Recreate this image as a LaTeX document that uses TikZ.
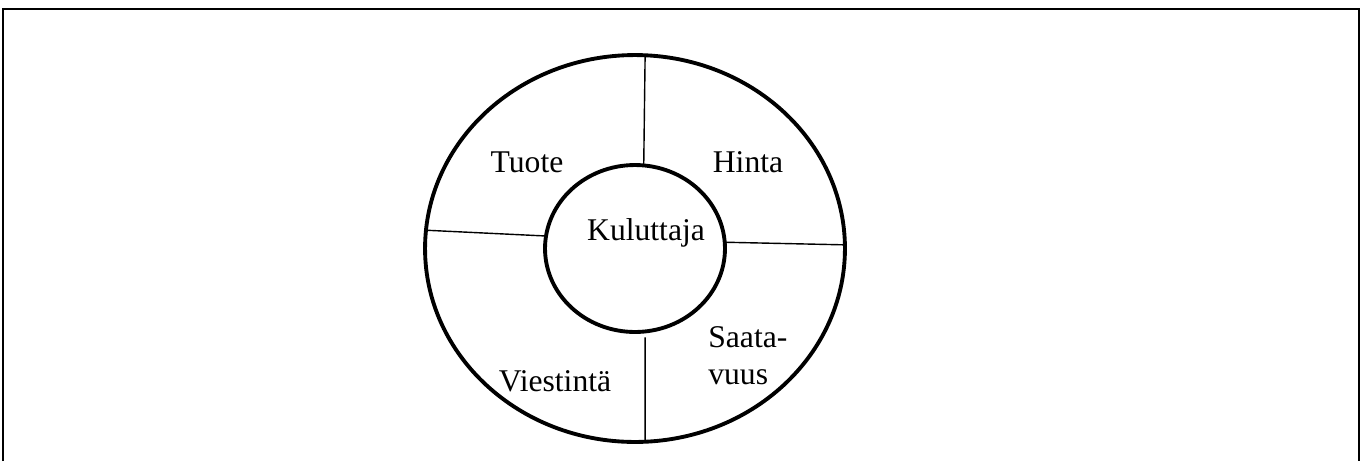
\documentclass[tikz,border=0pt]{standalone}
\usepackage{fontspec}
\setmainfont{Liberation Serif}
\usepackage{tikz}
\usetikzlibrary{shapes.geometric}

\begin{document}
\begin{tikzpicture}[
  x=0.02cm, y=-0.02cm,
  ring/.style ={draw, ellipse, line width=2.2pt, inner sep=0pt, outer sep=0pt},
  sep/.style  ={line width=0.8pt},
  frame/.style={line width=1.1pt},
  lbl/.style  ={font=\fontsize{18}{22}\selectfont, align=left, inner sep=0pt}
]
  \useasboundingbox (0,0) rectangle (1362,461);

  %% ── Page frame (open at the bottom) ─────────────────────────────────────
  \draw[frame] (3,461) |- (1359,9) -- (1359,461);

  %% ── Outer and inner rings ───────────────────────────────────────────────
  \node[ring, minimum width=8.4cm, minimum height=7.74cm] (outer) at (635,248.5) {};
  \node[ring, minimum width=3.6cm, minimum height=3.34cm] (inner) at (635,248.5) {};

  %% ── Dividers between the rings ──────────────────────────────────────────
  \draw[sep] (inner.84.5)  -- (outer.87.6);
  \draw[sep] (inner.172.2) -- (outer.175.8);
  \draw[sep] (inner.4.0)   -- (outer.1.2);
  \draw[sep, shorten <=0.12cm] (inner.277.5) -- (outer.273.3);

  %% ── Labels ──────────────────────────────────────────────────────────────
  \node[lbl] (kul)  at (646,233) {Kuluttaja};
  \node[lbl] (tuo)  at (527,162) {Tuote};
  \node[lbl] (hin)  at (748,162) {Hinta};
  \node[lbl] (vie)  at (555,381) {Viestintä};
  \node[lbl, anchor=north west] (saa) at (708,326) {Saata-\\[-1pt]vuus};

\end{tikzpicture}
\end{document}
